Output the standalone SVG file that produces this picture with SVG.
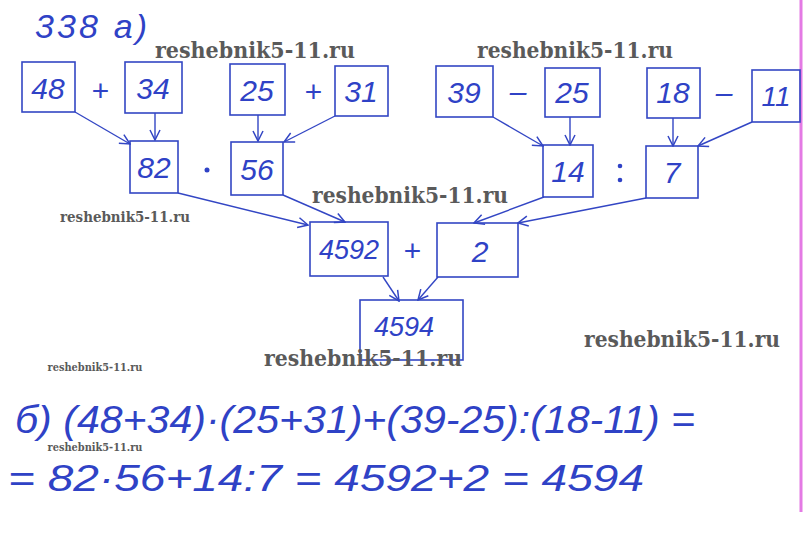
<svg xmlns="http://www.w3.org/2000/svg" width="812" height="542" viewBox="0 0 812 542">
<style>
.b{fill:none;stroke:#3346c4;stroke-width:1.6}
.h{font-family:"Liberation Sans","DejaVu Sans",sans-serif;font-style:italic;fill:#2f42c6;text-anchor:middle}
.s{font-family:"Liberation Sans","DejaVu Sans",sans-serif;font-style:italic;fill:#2f42c6;text-anchor:start}
.n{font-size:30px}
.w{font-family:"DejaVu Serif","Liberation Serif",serif;font-weight:bold;fill:#5a5a5a;text-anchor:middle}
.c{fill:none;stroke:#3346c4;stroke-width:1.4;marker-end:url(#a)}
</style>
<defs>
<marker id="a" viewBox="0 0 12 12" refX="11" refY="6" markerWidth="12" markerHeight="12" markerUnits="userSpaceOnUse" orient="auto">
<path d="M1,1 L11,6 L1,11" fill="none" stroke="#3346c4" stroke-width="1.5"/>
</marker>
</defs>
<rect width="812" height="542" fill="#fff"/>
<line x1="801" y1="0" x2="801" y2="512" stroke="#e47ae4" stroke-width="3"/>
<text class="s" x="35" y="38" font-size="34" textLength="112" lengthAdjust="spacing">338  a)</text>

<g id="connectors">
<line class="c" x1="75" y1="112" x2="130" y2="144"/>
<line class="c" x1="155" y1="113" x2="155" y2="140"/>
<line class="c" x1="258" y1="115" x2="258" y2="141"/>
<line class="c" x1="335" y1="116" x2="284" y2="142"/>
<line class="c" x1="493" y1="117" x2="543" y2="146"/>
<line class="c" x1="570" y1="117" x2="570" y2="145"/>
<line class="c" x1="673" y1="118" x2="673" y2="146"/>
<line class="c" x1="752" y1="122" x2="698" y2="146"/>
<line class="c" x1="178" y1="193" x2="308" y2="225"/>
<line class="c" x1="283" y1="195" x2="345" y2="222"/>
<line class="c" x1="544" y1="197" x2="474" y2="223"/>
<line class="c" x1="646" y1="198" x2="518" y2="223"/>
<line class="c" x1="383" y1="277" x2="399" y2="301"/>
<line class="c" x1="438" y1="277" x2="418" y2="300"/>
</g>

<g id="n48"><rect class="b" x="22" y="62" width="53" height="50"/><text class="h n" x="48" y="99">48</text></g>
<g id="op1"><text class="h n" x="100" y="101">+</text></g>
<g id="n34"><rect class="b" x="125" y="62" width="57" height="51"/><text class="h n" x="153" y="99">34</text></g>
<g id="n25a"><rect class="b" x="230" y="64" width="55" height="51"/><text class="h n" x="257" y="101">25</text></g>
<g id="op2"><text class="h n" x="313" y="102">+</text></g>
<g id="n31"><rect class="b" x="335" y="66" width="53" height="50"/><text class="h n" x="361" y="102">31</text></g>
<g id="n82"><rect class="b" x="130" y="141" width="48" height="52"/><text class="h n" x="154" y="178">82</text></g>
<g id="op3"><circle cx="207" cy="170" r="2.5" fill="#2f42c6"/></g>
<g id="n56"><rect class="b" x="231" y="142" width="52" height="53"/><text class="h n" x="257" y="180">56</text></g>
<g id="n39"><rect class="b" x="436" y="66" width="57" height="51"/><text class="h n" x="464" y="103">39</text></g>
<g id="op4"><text class="h n" x="518" y="102">–</text></g>
<g id="n25b"><rect class="b" x="545" y="68" width="55" height="49"/><text class="h n" x="572" y="103">25</text></g>
<g id="n18"><rect class="b" x="647" y="68" width="53" height="50"/><text class="h n" x="673" y="103">18</text></g>
<g id="op5"><text class="h n" x="724" y="103">–</text></g>
<g id="n11"><rect class="b" x="752" y="70" width="48" height="52"/><text class="h" x="776" y="106" font-size="28">11</text></g>
<g id="n14"><rect class="b" x="543" y="145" width="50" height="52"/><text class="h n" x="568" y="182">14</text></g>
<g id="op6"><circle cx="620" cy="166" r="2.3" fill="#2f42c6"/><circle cx="620" cy="180" r="2.3" fill="#2f42c6"/></g>
<g id="n7"><rect class="b" x="646" y="146" width="52" height="52"/><text class="h n" x="672" y="183">7</text></g>
<g id="n4592"><rect class="b" x="310" y="222" width="78" height="54"/><text class="h" x="349" y="259" font-size="27">4592</text></g>
<g id="op7"><text class="h n" x="412" y="261">+</text></g>
<g id="n2"><rect class="b" x="437" y="223" width="81" height="54"/><text class="h n" x="480" y="262">2</text></g>
<g id="n4594"><rect class="b" x="360" y="300" width="103" height="60"/><text class="h" x="404" y="336" font-size="27">4594</text></g>

<text class="s" x="15" y="433" font-size="38" textLength="680" lengthAdjust="spacingAndGlyphs">б) (48+34)·(25+31)+(39-25):(18-11) =</text>
<text class="s" x="8" y="491" font-size="36" textLength="636" lengthAdjust="spacingAndGlyphs">=  82·56+14:7 = 4592+2 = 4594</text>

<g id="watermarks">
<text class="w" x="255" y="58" font-size="22" textLength="200" lengthAdjust="spacingAndGlyphs">reshebnik5-11.ru</text>
<text class="w" x="575" y="58" font-size="22" textLength="196" lengthAdjust="spacingAndGlyphs">reshebnik5-11.ru</text>
<text class="w" x="410" y="203" font-size="22" textLength="196" lengthAdjust="spacingAndGlyphs">reshebnik5-11.ru</text>
<text class="w" x="125" y="222" font-size="14" textLength="130" lengthAdjust="spacingAndGlyphs">reshebnik5-11.ru</text>
<text class="w" x="682" y="347" font-size="22" textLength="196" lengthAdjust="spacingAndGlyphs">reshebnik5-11.ru</text>
<text class="w" x="363" y="366" font-size="22" textLength="198" lengthAdjust="spacingAndGlyphs">reshebnik5-11.ru</text>
<text class="w" x="95" y="371" font-size="11" textLength="95" lengthAdjust="spacingAndGlyphs">reshebnik5-11.ru</text>
<text class="w" x="95" y="451" font-size="11" textLength="95" lengthAdjust="spacingAndGlyphs">reshebnik5-11.ru</text>
</g>
</svg>
